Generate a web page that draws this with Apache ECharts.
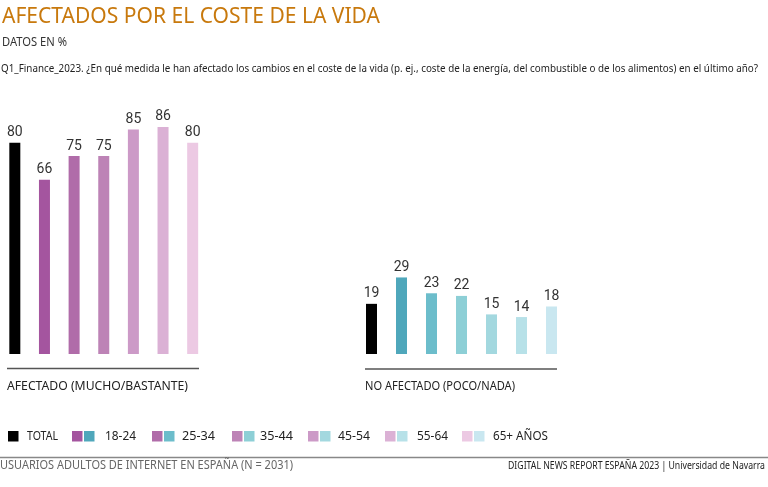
<!DOCTYPE html>
<html><head><meta charset="utf-8">
<script src="https://cdn.jsdelivr.net/npm/echarts@6/dist/echarts.min.js"></script>
<style>html,body{margin:0;padding:0;background:#fff}#c{width:768px;height:487px}</style>
</head><body><div id="c"></div>
<script>
var groups = ['AFECTADO (MUCHO/BASTANTE)', 'NO AFECTADO (POCO/NADA)'];
var ages = ['TOTAL', '18-24', '25-34', '35-44', '45-54', '55-64', '65+ AÑOS'];
var afectado = [80, 66, 75, 75, 85, 86, 80];
var noAfectado = [19, 29, 23, 22, 15, 14, 18];
var purples = ['#000000', '#a4559f', '#b06ca9', '#bd83b6', '#cc9ac7', '#dbb1d5', '#ecc9e3'];
var teals = ['#000000', '#4fa7bb', '#6cbdcb', '#8dcfd6', '#a3d8df', '#b7e1e8', '#c9e7f0'];

var chart = echarts.init(document.getElementById('c'), null, {renderer: 'canvas'});
var FF = '"Noto Sans", "Open Sans", sans-serif';
var fontN = 'Roboto, "Noto Sans", sans-serif';

var mctx = document.createElement('canvas').getContext('2d');
function fitScale(text, font, w) { mctx.font = font; return w / mctx.measureText(text).width; }

function txt(text, x, y, size, fill, w, align, weight) {
  var font = (weight || 'normal') + ' ' + size + 'px ' + FF;
  return {type: 'text', x: x, y: y, scaleX: fitScale(text, font, w), silent: true,
    style: {text: text, font: font, fill: fill, align: align || 'left', verticalAlign: 'middle'}};
}

function mk(vals, cols) {
  return vals.map(function (v, i) { return {value: v, itemStyle: {color: cols[i]}}; });
}

var graphics = [
  txt('AFECTADOS POR EL COSTE DE LA VIDA', 2, 17, 22, '#c8790d', 378),
  txt('DATOS EN %', 2, 42.5, 12, '#333', 65),
  txt('Q1_Finance_2023. ¿En qué medida le han afectado los cambios en el coste de la vida (p. ej., coste de la energía, del combustible o de los alimentos) en el último año?', 1, 68.5, 11.5, '#222', 757),
  {type: 'line', shape: {x1: 7, y1: 368.5, x2: 199, y2: 368.5}, style: {stroke: '#555', lineWidth: 1.6}},
  {type: 'line', shape: {x1: 365, y1: 369, x2: 557, y2: 369}, style: {stroke: '#555', lineWidth: 1.6}},
  txt(groups[0], 7, 386.5, 13, '#222', 181),
  txt(groups[1], 365, 386.5, 13, '#222', 150),
  {type: 'line', shape: {x1: 0, y1: 457.5, x2: 768, y2: 457.5}, style: {stroke: '#888', lineWidth: 1.5}},
  txt('USUARIOS ADULTOS DE INTERNET EN ESPAÑA (N = 2031)', 0, 466, 12, '#666', 293),
  txt('DIGITAL NEWS REPORT ESPAÑA 2023 | Universidad de Navarra', 765, 466, 11, '#222', 257, 'right')
];

// legend
var legSq = [8, 72, 152, 232, 308, 385, 462];
var legTx = [27, 105, 182, 260, 338, 417, 493];
var legW = [31, 31, 33, 33, 32, 31, 55];
ages.forEach(function (a, i) {
  graphics.push({type: 'rect', shape: {x: legSq[i], y: 431, width: 10.5, height: 10.5}, style: {fill: purples[i]}});
  if (i > 0) graphics.push({type: 'rect', shape: {x: legSq[i] + 12, y: 431, width: 10.5, height: 10.5}, style: {fill: teals[i]}});
  graphics.push(txt(a, legTx[i], 436.5, 13, '#222', legW[i]));
});

var labelCfg = {show: true, position: 'top', distance: 3, color: '#333', fontSize: 14, fontFamily: fontN};

chart.setOption({
  animation: false,
  grid: [
    {left: -2.5, width: 210, top: 90, height: 264},
    {left: 356.5, width: 210, top: 90, height: 264}
  ],
  xAxis: [
    {type: 'category', gridIndex: 0, data: ages, show: false},
    {type: 'category', gridIndex: 1, data: ages, show: false}
  ],
  yAxis: [
    {type: 'value', gridIndex: 0, min: 0, max: 100, show: false},
    {type: 'value', gridIndex: 1, min: 0, max: 100, show: false}
  ],
  series: [
    {type: 'bar', xAxisIndex: 0, yAxisIndex: 0, barWidth: 11, data: mk(afectado, purples), label: labelCfg},
    {type: 'bar', xAxisIndex: 1, yAxisIndex: 1, barWidth: 11, data: mk(noAfectado, teals), label: labelCfg}
  ],
  graphic: graphics
});
</script></body></html>
